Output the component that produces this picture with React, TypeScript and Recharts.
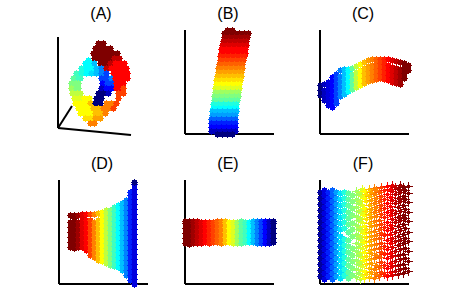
import { ScatterChart, Scatter, XAxis, YAxis, ReferenceLine } from 'recharts'

const jet = [
  '#00007f', '#00009f', '#0000bf', '#0000df', '#0000ff', '#0020ff', '#0040ff', '#0060ff', '#0080ff',
  '#009fff', '#00bfff', '#00dfff', '#00ffff', '#20ffdf', '#40ffbf', '#60ff9f', '#80ff80', '#9fff60',
  '#bfff40', '#dfff20', '#ffff00', '#ffdf00', '#ffbf00', '#ff9f00', '#ff8000', '#ff6000', '#ff4000',
  '#ff2000', '#ff0000', '#df0000', '#bf0000', '#9f0000', '#7f0000',
]

// rows: [colour index, y, ...xs]
const rowsA = [
  [32, 93, 40, 45], [32, 88, 37, 42, 47, 52], [32, 83, 35, 40, 45, 50, 55, 59],
  [12, 76, 30], [32, 78, 36, 41, 46, 51], [30, 78, 56, 61],
  [12, 73, 27, 32], [10, 73, 36], [32, 73, 42, 47], [30, 73, 52], [28, 73, 57, 62, 66],
  [13, 68, 23], [12, 68, 28, 33], [10, 68, 38], [8, 68, 43], [30, 68, 48], [28, 68, 53, 58, 63, 68],
  [14, 63, 18], [13, 63, 23], [12, 63, 28], [11, 63, 33], [10, 63, 38], [8, 63, 43], [6, 63, 48], [28, 63, 55, 60, 65, 69],
  [15, 58, 15], [14, 58, 20, 22], [6, 58, 43, 48], [8, 58, 53], [28, 58, 57, 60, 65, 69],
  [16, 53, 13, 18, 20], [4, 53, 44], [6, 53, 49, 54], [28, 53, 58, 60, 65],
  [17, 48, 13], [16, 48, 18, 20], [2, 48, 43], [4, 48, 48, 53], [28, 48, 58, 60], [26, 48, 65],
  [18, 43, 14, 19, 22], [0, 43, 40, 45], [2, 43, 50], [26, 43, 60, 65],
  [19, 38, 16, 21], [20, 38, 26, 31], [0, 38, 38, 43], [26, 38, 60],
  [20, 33, 17, 22, 27], [22, 33, 32], [24, 33, 48, 53], [26, 33, 58], [0, 33, 37, 42],
  [20, 28, 20, 25, 30], [22, 28, 35, 40], [24, 28, 45, 50], [26, 28, 55],
  [20, 23, 22, 27, 32], [22, 23, 37, 42], [24, 23, 47],
  [21, 18, 27, 32], [23, 18, 37, 42], [24, 13, 32, 36],
]

const rowsB = [
  [32, 104, 42, 47], [32, 101, 39, 44, 49, 54, 59, 63], [31, 97, 39, 44, 49, 54, 59, 62],
  [30, 93, 38, 43, 48, 53, 58, 61], [29, 89, 37, 42, 47, 52, 57, 61], [28, 85, 36, 41, 46, 51, 56, 60],
  [28, 81, 36, 41, 46, 51, 56, 60], [27, 77, 35, 40, 45, 50, 55, 59], [26, 73, 35, 40, 45, 50, 55, 58],
  [25, 69, 34, 39, 44, 49, 54, 57], [24, 65, 33, 38, 43, 48, 53, 57], [23, 61, 33, 38, 43, 48, 53, 56],
  [22, 57, 32, 37, 42, 47, 52, 56], [21, 53, 31, 36, 41, 46, 51, 55], [20, 49, 31, 36, 41, 46, 51, 54],
  [19, 45, 30, 35, 40, 45, 50, 54], [17, 41, 30, 35, 40, 45, 50, 53], [16, 37, 29, 34, 39, 44, 49, 53],
  [15, 33, 29, 34, 39, 44, 49, 52], [13, 29, 28, 33, 38, 43, 48, 51], [12, 25, 28, 33, 38, 43, 48, 51],
  [10, 21, 27, 32, 37, 42, 47, 51], [9, 17, 27, 32, 37, 42, 47, 50], [7, 13, 26, 31, 36, 41, 46, 50],
  [5, 9, 26, 31, 36, 41, 46, 50], [4, 5, 26, 31, 36, 41, 46, 50], [2, 1, 26, 31, 36, 41, 46, 50],
  [0, -2, 32, 37, 42, 47],
]

// cols: [colour index, x, ...ys]
const colsC = [
  [0, 0, 39, 44, 49], [2, 4, 34, 39, 44, 50], [3, 8, 29, 34, 39, 44, 49, 52],
  [4, 12, 27, 32, 37, 42, 47, 52, 57], [6, 16, 31, 36, 41, 46, 51, 56, 60], [8, 20, 38, 43, 48, 53, 58, 64],
  [10, 24, 40, 45, 50, 55, 60, 65], [12, 28, 43, 48, 53, 58, 63, 65], [15, 32, 45, 50, 55, 60, 66],
  [18, 36, 47, 52, 57, 62, 68], [20, 40, 49, 54, 59, 64, 70], [22, 44, 51, 56, 61, 66, 72],
  [23, 48, 53, 58, 63, 68, 74], [24, 52, 54, 59, 64, 69, 75], [25, 56, 55, 60, 65, 70, 75],
  [26, 60, 56, 61, 66, 71, 75], [27, 64, 55, 60, 65, 70, 75], [28, 68, 54, 59, 64, 69, 75],
  [29, 72, 52, 57, 62, 67, 74], [30, 76, 51, 56, 61, 66, 73], [31, 80, 50, 55, 60, 65, 72],
  [32, 84, 56, 61, 66, 71], [32, 88, 64, 69],
]

const colsD = [
  [32, 11, 37, 42, 47, 52, 57, 62, 69], [32, 15, 36, 41, 46, 51, 56, 61, 66, 69],
  [31, 19, 37, 42, 47, 52, 57, 62, 69], [29, 23, 37, 42, 47, 52, 57, 62, 67, 70],
  [28, 27, 34, 39, 44, 49, 54, 59, 64, 70], [26, 31, 29, 34, 39, 44, 49, 54, 59, 64, 70],
  [24, 35, 27, 32, 37, 42, 47, 52, 57, 62, 70], [22, 39, 24, 29, 34, 39, 44, 49, 54, 59, 64, 71],
  [20, 43, 23, 28, 33, 38, 43, 48, 53, 58, 63, 68, 72], [18, 47, 21, 26, 31, 36, 41, 46, 51, 56, 61, 66, 71, 74],
  [16, 51, 19, 24, 29, 34, 39, 44, 49, 54, 59, 64, 69, 74], [14, 55, 18, 23, 28, 33, 38, 43, 48, 53, 58, 63, 68, 73, 77],
  [12, 59, 17, 22, 27, 32, 37, 42, 47, 52, 57, 62, 67, 72, 77, 79],
  [10, 63, 14, 19, 24, 29, 34, 39, 44, 49, 54, 59, 64, 69, 74, 79, 81],
  [8, 67, 9, 14, 19, 24, 29, 34, 39, 44, 49, 54, 59, 64, 69, 74, 79, 84],
  [5, 71, 4, 9, 14, 19, 24, 29, 34, 39, 44, 49, 54, 59, 64, 69, 74, 79, 84, 89, 92],
  [3, 75, 0, 5, 10, 15, 20, 25, 30, 35, 40, 45, 50, 55, 60, 65, 70, 75, 80, 85, 90, 95, 100],
  [0, 75, 102],
]

const colsE = [
  [32, 0, 41, 46, 51, 56, 61, 63], [32, 4, 40, 45, 50, 55, 60, 63], [31, 8, 41, 46, 51, 56, 61, 63],
  [30, 12, 41, 46, 51, 55, 60, 63], [29, 16, 41, 45, 50, 55, 60, 62], [28, 20, 42, 46, 51, 56, 60, 62],
  [27, 24, 41, 46, 51, 56, 60, 62], [26, 28, 42, 47, 52, 57, 60, 62], [25, 32, 42, 46, 51, 56, 61, 63],
  [24, 36, 41, 46, 51, 56, 60, 63], [22, 40, 42, 47, 52, 57, 61, 63], [20, 44, 42, 46, 51, 56, 61, 62],
  [19, 48, 41, 46, 51, 55, 60, 62], [17, 52, 41, 46, 50, 55, 60, 62], [15, 56, 41, 46, 51, 56, 60, 63],
  [14, 60, 42, 46, 51, 56, 60, 62], [12, 64, 42, 47, 51, 56, 60, 62], [10, 68, 42, 46, 51, 56, 61, 63],
  [8, 72, 41, 46, 51, 55, 60, 63], [6, 76, 41, 46, 51, 56, 60, 63], [4, 80, 41, 46, 51, 55, 60, 63],
  [2, 84, 41, 45, 50, 55, 60, 63], [0, 88, 42, 46, 51, 56, 61, 63],
]

const colsF = [
  [1, 0, 8, 14, 20, 26, 32, 38, 44, 50, 56, 62, 68, 74, 80, 86, 92], [3, 4, 5, 11, 17, 23, 29, 35, 41, 47, 53, 59, 65, 71, 77, 83, 89, 94],
  [5, 8, 8, 14, 20, 26, 32, 38, 44, 50, 56, 62, 68, 74, 80, 86, 92], [7, 12, 5, 11, 17, 23, 29, 35, 41, 47, 53, 59, 65, 71, 77, 83, 89, 94],
  [9, 16, 8, 14, 20, 26, 32, 38, 44, 50, 56, 62, 68, 74, 80, 86, 92], [11, 20, 6, 12, 18, 24, 30, 36, 42, 48, 55, 61, 67, 73, 79, 85, 91],
  [13, 24, 9, 15, 21, 27, 33, 39, 45, 56, 62, 68, 74, 80, 86, 92], [15, 28, 6, 12, 19, 25, 32, 38, 44, 52, 60, 66, 72, 79, 85, 91],
  [16, 32, 9, 16, 23, 29, 36, 48, 55, 61, 69, 76, 83, 89],
]

const colsFSparse = [
  [17, 36, 7, 15, 24, 33, 41, 50, 59, 68, 77, 85, 93], [17, 38, 11, 20, 29, 37, 46, 55, 64, 73, 81, 90],
  [18, 40, 5, 14, 22, 31, 40, 48, 57, 66, 74, 83, 92], [19, 42, 9, 18, 27, 36, 44, 53, 62, 71, 79, 88, 95],
  [20, 44, 6, 13, 24, 32, 42, 51, 58, 69, 76, 86, 93], [21, 46, 10, 20, 28, 38, 47, 55, 65, 73, 83, 90],
  [22, 49, 7, 16, 25, 34, 43, 52, 61, 70, 79, 88, 95], [23, 51, 12, 21, 31, 39, 48, 58, 67, 75, 84, 92],
  [24, 54, 6, 15, 26, 35, 45, 53, 63, 72, 81, 90, 96], [24, 56, 10, 19, 29, 40, 49, 59, 68, 77, 86, 94],
  [25, 59, 8, 17, 27, 36, 46, 55, 64, 74, 83, 92], [26, 61, 12, 22, 32, 41, 51, 60, 70, 79, 88, 97],
  [27, 64, 10, 19, 30, 38, 49, 57, 67, 76, 85, 94], [28, 67, 8, 16, 26, 35, 44, 54, 62, 72, 81, 90, 98],
  [28, 70, 12, 21, 31, 41, 50, 59, 69, 78, 87, 95], [29, 72, 9, 18, 28, 37, 46, 56, 65, 74, 84, 93, 99],
  [30, 75, 13, 23, 33, 43, 52, 62, 71, 81, 90, 97], [31, 78, 10, 19, 29, 39, 48, 58, 67, 77, 86, 95],
  [31, 80, 15, 25, 35, 44, 54, 64, 73, 83, 92, 99], [32, 83, 11, 20, 30, 41, 50, 60, 69, 79, 88, 97],
  [32, 85, 16, 26, 36, 46, 56, 66, 75, 85, 94], [32, 88, 13, 23, 33, 43, 52, 63, 72, 82, 91, 98],
]

const titles = ['(A)', '(B)', '(C)', '(D)', '(E)', '(F)']

type Pt = { x: number; y: number; c: number }

const fromRows = (rows: number[][]): Pt[] =>
  rows.flatMap(([c, y, ...xs]) => xs.map((x) => ({ x, y, c })))
const fromCols = (cols: number[][]): Pt[] =>
  cols.flatMap(([c, x, ...ys]) => ys.map((y) => ({ x, y, c })))

const FatPlus = ({ cx, cy, payload }: any) => (
  <path
    shapeRendering="crispEdges"
    stroke="none"
    fill={jet[payload.c]}
    d={`M${cx - 2} ${cy - 2}h5v5h-5z M${cx} ${cy - 3}h1v7h-1z M${cx - 3} ${cy}h7v1h-7z`}
  />
)

const ThinPlus = ({ cx, cy, payload }: any) => (
  <path
    shapeRendering="crispEdges"
    stroke="none"
    fill={jet[payload.c]}
    d={`M${cx - 1} ${cy - 1}h3v3h-3z M${cx} ${cy - 4}h1v9h-1z M${cx - 4} ${cy}h9v1h-9z`}
  />
)

const W = 89
const H = 104
const M = 10

function Panel({ left, top, title, data, sparse, is3d }: any) {
  return (
    <div style={{ position: 'absolute', left: left - M, top: top - M }}>
      <ScatterChart width={W + M * 2} height={H + M * 2} margin={{ top: M, right: M, bottom: is3d ? M : M - 1, left: is3d ? M : M - 1 }}>
        <XAxis
          type="number"
          dataKey="x"
          domain={[0, W]}
          height={1}
          hide={is3d}
          tick={false}
          tickLine={false}
          axisLine={{ stroke: '#000', strokeWidth: 2 }}
        />
        <YAxis
          type="number"
          dataKey="y"
          domain={[0, H]}
          width={1}
          hide={is3d}
          tick={false}
          tickLine={false}
          axisLine={{ stroke: '#000', strokeWidth: 2 }}
        />
        {is3d && (
          <ReferenceLine segment={[{ x: 0, y: 99 }, { x: 0, y: 8 }]} stroke="#000" strokeWidth={2} />
        )}
        {is3d && (
          <ReferenceLine segment={[{ x: 0, y: 8 }, { x: 73, y: 1 }]} stroke="#000" strokeWidth={2} />
        )}
        {is3d && (
          <ReferenceLine segment={[{ x: 0, y: 8 }, { x: 14, y: 30 }]} stroke="#000" strokeWidth={2} />
        )}
        <Scatter data={data} shape={FatPlus} isAnimationActive={false} />
        {sparse && <Scatter data={sparse} shape={ThinPlus} isAnimationActive={false} />}
      </ScatterChart>
      <div
        style={{
          position: 'absolute',
          left: title.center,
          top: title.top,
          width: 40,
          marginLeft: -20,
          textAlign: 'center',
          fontFamily: '"Liberation Sans", Arial, sans-serif',
          fontSize: 16,
          lineHeight: '17px',
          color: '#000',
        }}
      >
        {title.text}
      </div>
    </div>
  )
}

export default function App() {
  return (
    <div style={{ position: 'absolute', left: 0, top: 0, width: 450, height: 300, background: '#fff', overflow: 'hidden' }}>
      <Panel left={58} top={32} is3d data={fromRows(rowsA)} title={{ text: titles[0], center: 53, top: -17 }} />
      <Panel left={185} top={30} data={fromRows(rowsB)} title={{ text: titles[1], center: 53, top: -15 }} />
      <Panel left={320} top={30} data={fromCols(colsC)} title={{ text: titles[2], center: 53, top: -15 }} />
      <Panel left={59} top={180} data={fromCols(colsD)} title={{ text: titles[3], center: 53, top: -15 }} />
      <Panel left={185} top={180} data={fromCols(colsE)} title={{ text: titles[4], center: 53, top: -15 }} />
      <Panel
        left={320}
        top={180}
        data={fromCols(colsF)}
        sparse={fromCols(colsFSparse)}
        title={{ text: titles[5], center: 53, top: -15 }}
      />
    </div>
  )
}
